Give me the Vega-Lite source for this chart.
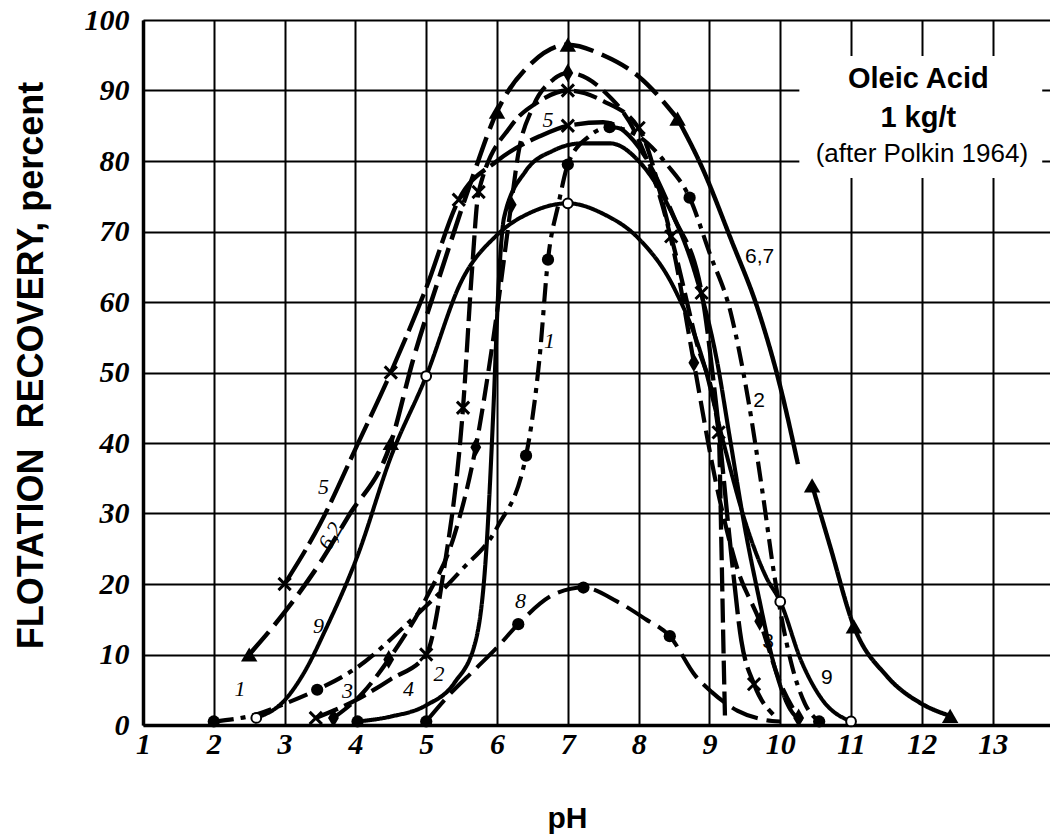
{
  "$schema": "https://vega.github.io/schema/vega-lite/v6.json",
  "width": 907,
  "height": 705,
  "autosize": {"type": "none"},
  "padding": {"left": 143, "top": 20, "right": 0, "bottom": 113},
  "background": "white",
  "config": {
    "view": {"stroke": null},
    "axis": {
      "grid": true, "gridColor": "#000", "gridWidth": 2, "gridOpacity": 1,
      "domainColor": "#000", "domainWidth": 3.5, "ticks": false,
      "labelColor": "#000", "labelFont": "Liberation Serif", "labelFontStyle": "italic",
      "labelFontWeight": "bold", "labelFontSize": 30, "labelFlush": false,
      "labelOverlap": false, "labelBound": false,
      "titleColor": "#000", "titleFont": "Liberation Sans", "titleFontWeight": "bold"
    }
  },
  "datasets": {
    "curves": [
      {"c":"67a","ph":2.5,"r":10,"m":1},{"c":"67a","ph":3.0,"r":16,"m":0},{"c":"67a","ph":3.5,"r":23,"m":0},{"c":"67a","ph":3.9,"r":29.6,"m":0},{"c":"67a","ph":4.5,"r":40,"m":1},{"c":"67a","ph":4.82,"r":52,"m":0},{"c":"67a","ph":5.2,"r":64,"m":0},{"c":"67a","ph":5.63,"r":77,"m":0},{"c":"67a","ph":6.0,"r":87,"m":1},{"c":"67a","ph":6.5,"r":94,"m":0},{"c":"67a","ph":7.0,"r":96.5,"m":1},{"c":"67a","ph":7.5,"r":95,"m":0},{"c":"67a","ph":8.0,"r":92,"m":0},{"c":"67a","ph":8.55,"r":86,"m":1},
      {"c":"67b","ph":8.55,"r":86,"m":0},{"c":"67b","ph":8.9,"r":79,"m":0},{"c":"67b","ph":9.3,"r":69,"m":0},{"c":"67b","ph":9.7,"r":58.5,"m":0},{"c":"67b","ph":10.0,"r":48,"m":0},{"c":"67b","ph":10.25,"r":37,"m":0},
      {"c":"67c","ph":10.45,"r":34,"m":1},{"c":"67c","ph":10.7,"r":25.5,"m":0},{"c":"67c","ph":11.04,"r":14,"m":1},{"c":"67c","ph":11.5,"r":7,"m":0},{"c":"67c","ph":12.0,"r":3,"m":0},{"c":"67c","ph":12.4,"r":1.3,"m":1},
      {"c":"5","ph":3.0,"r":20,"m":1},{"c":"5","ph":3.5,"r":28.5,"m":0},{"c":"5","ph":4.03,"r":39.8,"m":0},{"c":"5","ph":4.5,"r":50,"m":1},{"c":"5","ph":5.0,"r":62,"m":0},{"c":"5","ph":5.46,"r":74.5,"m":1},{"c":"5","ph":6.0,"r":80,"m":0},{"c":"5","ph":6.6,"r":83.5,"m":0},{"c":"5","ph":7.0,"r":85,"m":1},{"c":"5","ph":7.5,"r":85.5,"m":0},{"c":"5","ph":8.0,"r":82,"m":0},{"c":"5","ph":8.5,"r":72,"m":0},{"c":"5","ph":8.89,"r":61.3,"m":1},{"c":"5","ph":9.1,"r":45,"m":0},{"c":"5","ph":9.3,"r":25,"m":0},{"c":"5","ph":9.45,"r":12,"m":0},{"c":"5","ph":9.63,"r":5.8,"m":1},{"c":"5","ph":9.9,"r":1.5,"m":0},
      {"c":"4","ph":3.44,"r":1,"m":1},{"c":"4","ph":4.0,"r":3.5,"m":0},{"c":"4","ph":4.5,"r":6.5,"m":0},{"c":"4","ph":5.0,"r":10,"m":1},{"c":"4","ph":5.25,"r":22,"m":0},{"c":"4","ph":5.52,"r":45,"m":1},{"c":"4","ph":5.65,"r":65,"m":0},{"c":"4","ph":5.74,"r":75.6,"m":1},{"c":"4","ph":6.2,"r":85,"m":0},{"c":"4","ph":6.6,"r":88.5,"m":0},{"c":"4","ph":7.0,"r":90,"m":1},{"c":"4","ph":7.5,"r":88.5,"m":0},{"c":"4","ph":8.0,"r":84.7,"m":1},{"c":"4","ph":8.46,"r":69.3,"m":1},{"c":"4","ph":8.8,"r":55,"m":0},{"c":"4","ph":9.13,"r":41.5,"m":1},{"c":"4","ph":9.17,"r":25,"m":0},{"c":"4","ph":9.2,"r":10,"m":0},{"c":"4","ph":9.22,"r":1,"m":0},
      {"c":"3","ph":3.69,"r":1,"m":1},{"c":"3","ph":4.1,"r":4.5,"m":0},{"c":"3","ph":4.47,"r":9.3,"m":1},{"c":"3","ph":5.0,"r":18,"m":0},{"c":"3","ph":5.4,"r":27,"m":0},{"c":"3","ph":5.7,"r":39.4,"m":1},{"c":"3","ph":5.95,"r":55,"m":0},{"c":"3","ph":6.2,"r":73.8,"m":1},{"c":"3","ph":6.3,"r":81,"m":0},{"c":"3","ph":6.5,"r":87.5,"m":0},{"c":"3","ph":6.8,"r":91.6,"m":0},{"c":"3","ph":7.0,"r":92.5,"m":1},{"c":"3","ph":7.5,"r":90,"m":0},{"c":"3","ph":8.0,"r":83,"m":0},{"c":"3","ph":8.5,"r":67,"m":0},{"c":"3","ph":8.78,"r":51.4,"m":1},{"c":"3","ph":9.1,"r":34,"m":0},{"c":"3","ph":9.4,"r":22,"m":0},{"c":"3","ph":9.71,"r":14.7,"m":1},{"c":"3","ph":10.0,"r":6,"m":0},{"c":"3","ph":10.26,"r":1,"m":1},
      {"c":"1","ph":2.0,"r":0.5,"m":1},{"c":"1","ph":2.6,"r":1.5,"m":0},{"c":"1","ph":3.0,"r":3,"m":0},{"c":"1","ph":3.46,"r":5,"m":1},{"c":"1","ph":4.0,"r":8,"m":0},{"c":"1","ph":4.8,"r":15,"m":0},{"c":"1","ph":5.5,"r":22,"m":0},{"c":"1","ph":6.0,"r":28,"m":0},{"c":"1","ph":6.41,"r":38.2,"m":1},{"c":"1","ph":6.6,"r":52,"m":0},{"c":"1","ph":6.72,"r":66,"m":1},{"c":"1","ph":6.87,"r":74,"m":0},{"c":"1","ph":7.0,"r":79.5,"m":1},{"c":"1","ph":7.3,"r":83.5,"m":0},{"c":"1","ph":7.59,"r":84.8,"m":1},{"c":"1","ph":8.0,"r":83.5,"m":0},{"c":"1","ph":8.4,"r":79.5,"m":0},{"c":"1","ph":8.72,"r":74.8,"m":1},{"c":"1","ph":9.0,"r":67,"m":0},{"c":"1","ph":9.3,"r":58.5,"m":0},{"c":"1","ph":9.55,"r":46,"m":0},{"c":"1","ph":9.75,"r":33,"m":0},{"c":"1","ph":9.92,"r":21,"m":0},{"c":"1","ph":10.15,"r":9,"m":0},{"c":"1","ph":10.35,"r":3,"m":0},{"c":"1","ph":10.55,"r":0.5,"m":1},
      {"c":"2","ph":4.03,"r":0.5,"m":1},{"c":"2","ph":4.5,"r":1.2,"m":0},{"c":"2","ph":5.0,"r":2.8,"m":0},{"c":"2","ph":5.4,"r":6,"m":0},{"c":"2","ph":5.7,"r":12,"m":0},{"c":"2","ph":5.85,"r":25,"m":0},{"c":"2","ph":5.95,"r":45,"m":0},{"c":"2","ph":6.02,"r":62,"m":0},{"c":"2","ph":6.1,"r":72,"m":0},{"c":"2","ph":6.4,"r":78.5,"m":0},{"c":"2","ph":6.8,"r":81.5,"m":0},{"c":"2","ph":7.2,"r":82.5,"m":0},{"c":"2","ph":7.6,"r":82.5,"m":0},{"c":"2","ph":8.0,"r":80,"m":0},{"c":"2","ph":8.4,"r":74,"m":0},{"c":"2","ph":8.8,"r":64,"m":0},{"c":"2","ph":9.1,"r":52,"m":0},{"c":"2","ph":9.3,"r":40,"m":0},{"c":"2","ph":9.5,"r":28,"m":0},{"c":"2","ph":9.7,"r":18,"m":0},{"c":"2","ph":9.9,"r":9,"m":0},{"c":"2","ph":10.1,"r":3,"m":0},{"c":"2","ph":10.3,"r":0.5,"m":0},
      {"c":"8","ph":5.0,"r":0.5,"m":1},{"c":"8","ph":5.3,"r":4,"m":0},{"c":"8","ph":5.7,"r":8,"m":0},{"c":"8","ph":6.0,"r":11,"m":0},{"c":"8","ph":6.3,"r":14.3,"m":1},{"c":"8","ph":6.8,"r":18.5,"m":0},{"c":"8","ph":7.22,"r":19.5,"m":1},{"c":"8","ph":7.7,"r":17.5,"m":0},{"c":"8","ph":8.1,"r":15,"m":0},{"c":"8","ph":8.44,"r":12.6,"m":1},{"c":"8","ph":8.8,"r":7,"m":0},{"c":"8","ph":9.03,"r":4.7,"m":0},{"c":"8","ph":9.4,"r":2,"m":0},{"c":"8","ph":9.8,"r":0.7,"m":0},{"c":"8","ph":10.0,"r":0.5,"m":0},
      {"c":"9","ph":2.6,"r":1,"m":1},{"c":"9","ph":3.0,"r":3.5,"m":0},{"c":"9","ph":3.25,"r":7,"m":0},{"c":"9","ph":3.6,"r":14,"m":0},{"c":"9","ph":4.03,"r":24,"m":0},{"c":"9","ph":4.5,"r":38,"m":0},{"c":"9","ph":5.0,"r":49.5,"m":1},{"c":"9","ph":5.5,"r":63,"m":0},{"c":"9","ph":6.0,"r":69.5,"m":0},{"c":"9","ph":6.5,"r":72.8,"m":0},{"c":"9","ph":7.0,"r":74,"m":1},{"c":"9","ph":7.5,"r":72.5,"m":0},{"c":"9","ph":8.0,"r":69,"m":0},{"c":"9","ph":8.5,"r":62,"m":0},{"c":"9","ph":8.9,"r":52,"m":0},{"c":"9","ph":9.2,"r":40,"m":0},{"c":"9","ph":9.5,"r":29,"m":0},{"c":"9","ph":9.8,"r":21,"m":0},{"c":"9","ph":10.0,"r":17.5,"m":1},{"c":"9","ph":10.3,"r":9,"m":0},{"c":"9","ph":10.6,"r":3.5,"m":0},{"c":"9","ph":11.0,"r":0.5,"m":1}
    ],
    "handLabels": [
      {"t":"1","ph":2.37,"r":5.1},{"t":"9","ph":3.48,"r":14},{"t":"5","ph":3.55,"r":33.7},{"t":"3","ph":3.89,"r":4.8},{"t":"4","ph":4.75,"r":5.1},{"t":"2","ph":5.18,"r":7.2},{"t":"8","ph":6.33,"r":17.6},{"t":"1","ph":6.74,"r":54.4},{"t":"5","ph":6.72,"r":85.8}
    ],
    "rotLabels": [{"t":"6,2","ph":3.65,"r":26.8}],
    "typedLabels": [
      {"t":"6,7","ph":9.71,"r":66.4},{"t":"2","ph":9.7,"r":45.9},{"t":"3","ph":9.83,"r":11.8},{"t":"9","ph":10.66,"r":6.7}
    ],
    "box": [{"x1":10.27,"x2":13.7,"y1":77.6,"y2":94.9}],
    "note": [
      {"t":"Oleic Acid","ph":11.95,"r":90.3},{"t":"1 kg/t","ph":11.95,"r":84.8},{"t":"(after Polkin 1964)","ph":12.0,"r":79.9}
    ]
  },
  "layer": [
    {
      "data": {"name": "box"},
      "mark": {"type": "rect", "fill": "white"},
      "encoding": {
        "x": {"field": "x1", "type": "quantitative", "scale": {"domain": [1, 13.81], "nice": false, "zero": false},
          "axis": {"values": [1,2,3,4,5,6,7,8,9,10,11,12,13], "format": "d", "labelPadding": 4,
            "title": "pH", "titleFontSize": 30, "titleX": 424, "titleY": 102, "titleAlign": "center", "titleBaseline": "alphabetic"}},
        "x2": {"field": "x2"},
        "y": {"field": "y1", "type": "quantitative", "scale": {"domain": [0, 100], "nice": false, "zero": false},
          "axis": {"values": [0,10,20,30,40,50,60,70,80,90,100], "format": "d", "labelPadding": 14,
            "title": "FLOTATION\u00a0 RECOVERY, percent", "titleFontSize": 36, "titleAngle": -90,
            "titleX": -112, "titleY": 345, "titleAlign": "center", "titleBaseline": "middle"}},
        "y2": {"field": "y2"}
      }
    },
    {
      "data": {"name": "curves"},
      "mark": {"type": "line", "interpolate": "monotone", "color": "#000"},
      "encoding": {
        "x": {"field": "ph", "type": "quantitative"},
        "y": {"field": "r", "type": "quantitative"},
        "detail": {"field": "c"},
        "strokeDash": {"field": "c", "type": "nominal", "legend": null,
          "scale": {"domain": ["67a","67b","67c","5","4","3","1","2","8","9"],
            "range": [[30,9],[1,0],[1,0],[40,7],[24,7],[22,8],[20,7,5,7],[1,0],[28,9],[1,0]]}},
        "strokeWidth": {"field": "c", "type": "nominal", "legend": null,
          "scale": {"domain": ["67a","67b","67c","5","4","3","1","2","8","9"],
            "range": [4.5,4,4,4.5,4,4.5,4.5,4,4.5,2.8]}}
      }
    },
    {
      "data": {"name": "curves"},
      "transform": [{"filter": "datum.m == 1 && (datum.c == '67a' || datum.c == '67b' || datum.c == '67c')"}],
      "mark": {"type": "point", "shape": "triangle-up", "filled": true, "color": "#000", "size": 270, "opacity": 1},
      "encoding": {"x": {"field": "ph", "type": "quantitative"}, "y": {"field": "r", "type": "quantitative"}}
    },
    {
      "data": {"name": "curves"},
      "transform": [{"filter": "datum.m == 1 && (datum.c == '5' || datum.c == '4')"}],
      "mark": {"type": "point", "shape": "M-1,-1L1,1M-1,1L1,-1", "filled": false, "stroke": "#000", "strokeWidth": 3, "size": 150, "opacity": 1},
      "encoding": {"x": {"field": "ph", "type": "quantitative"}, "y": {"field": "r", "type": "quantitative"}}
    },
    {
      "data": {"name": "curves"},
      "transform": [{"filter": "datum.m == 1 && datum.c == '3'"}],
      "mark": {"type": "point", "shape": "M0,-1.3L0.75,0L0,1.3L-0.75,0Z", "filled": true, "color": "#000", "size": 210, "opacity": 1},
      "encoding": {"x": {"field": "ph", "type": "quantitative"}, "y": {"field": "r", "type": "quantitative"}}
    },
    {
      "data": {"name": "curves"},
      "transform": [{"filter": "datum.m == 1 && (datum.c == '1' || datum.c == '2' || datum.c == '8')"}],
      "mark": {"type": "point", "shape": "circle", "filled": true, "color": "#000", "size": 150, "opacity": 1},
      "encoding": {"x": {"field": "ph", "type": "quantitative"}, "y": {"field": "r", "type": "quantitative"}}
    },
    {
      "data": {"name": "curves"},
      "transform": [{"filter": "datum.m == 1 && datum.c == '9'"}],
      "mark": {"type": "point", "shape": "circle", "filled": true, "fill": "white", "stroke": "#000", "strokeWidth": 2, "size": 95, "opacity": 1},
      "encoding": {"x": {"field": "ph", "type": "quantitative"}, "y": {"field": "r", "type": "quantitative"}}
    },
    {
      "data": {"name": "handLabels"},
      "mark": {"type": "text", "font": "Liberation Serif", "fontStyle": "italic", "fontSize": 22, "color": "#000", "align": "center", "baseline": "middle"},
      "encoding": {"x": {"field": "ph", "type": "quantitative"}, "y": {"field": "r", "type": "quantitative"}, "text": {"field": "t"}}
    },
    {
      "data": {"name": "rotLabels"},
      "mark": {"type": "text", "font": "Liberation Serif", "fontStyle": "italic", "fontSize": 22, "color": "#000", "align": "center", "baseline": "middle", "angle": 300},
      "encoding": {"x": {"field": "ph", "type": "quantitative"}, "y": {"field": "r", "type": "quantitative"}, "text": {"field": "t"}}
    },
    {
      "data": {"name": "typedLabels"},
      "mark": {"type": "text", "font": "Liberation Sans", "fontSize": 21, "color": "#000", "align": "center", "baseline": "middle"},
      "encoding": {"x": {"field": "ph", "type": "quantitative"}, "y": {"field": "r", "type": "quantitative"}, "text": {"field": "t"}}
    },
    {
      "data": {"name": "note"},
      "transform": [{"filter": "datum.t != '(after Polkin 1964)'"}],
      "mark": {"type": "text", "font": "Liberation Sans", "fontWeight": "bold", "fontSize": 29, "color": "#000", "align": "center", "baseline": "alphabetic"},
      "encoding": {"x": {"field": "ph", "type": "quantitative"}, "y": {"field": "r", "type": "quantitative"}, "text": {"field": "t"}}
    },
    {
      "data": {"name": "note"},
      "transform": [{"filter": "datum.t == '(after Polkin 1964)'"}],
      "mark": {"type": "text", "font": "Liberation Sans", "fontSize": 26, "color": "#000", "align": "center", "baseline": "alphabetic"},
      "encoding": {"x": {"field": "ph", "type": "quantitative"}, "y": {"field": "r", "type": "quantitative"}, "text": {"field": "t"}}
    }
  ]
}
